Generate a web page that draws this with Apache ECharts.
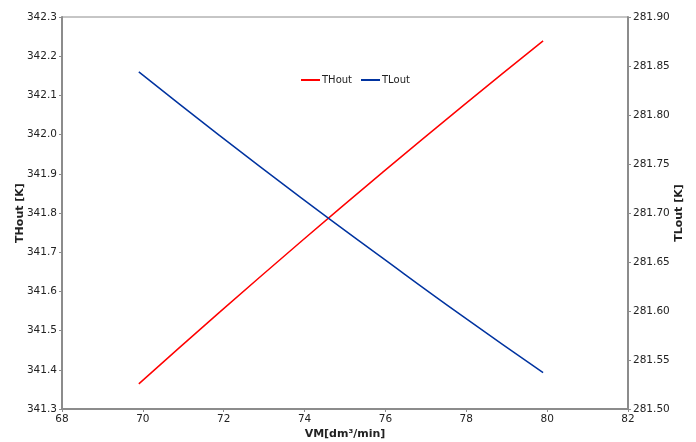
<!DOCTYPE html>
<html>
<head>
<meta charset="utf-8">
<script src="https://cdn.jsdelivr.net/npm/echarts@6/dist/echarts.min.js"></script>
<style>html,body{margin:0;padding:0;background:#fff}#c{width:696px;height:442px}</style>
</head>
<body>
<div id="c"></div>
<script>
const vm = [69.9, 71.9, 73.9, 75.9, 77.9, 79.9];
const thout = [341.364, 341.547, 341.726, 341.901, 342.072, 342.239];
const tlout = [281.844, 281.779, 281.716, 281.655, 281.595, 281.537];
const xTicks = [68, 70, 72, 74, 76, 78, 80, 82];

const font = 'DejaVu Sans';
const axisGrey = '#8c8c8c';
const fs = 10.5;
const chart = echarts.init(document.getElementById('c'));
chart.setOption({
  animation: false,
  textStyle: {fontFamily: font},
  grid: {left: 62, right: 68, top: 17, bottom: 33, containLabel: false, outerBoundsMode: 'none',
         show: true, borderColor: axisGrey, borderWidth: 1},
  legend: {
    left: 301, top: 75, padding: 0, itemGap: 9, itemWidth: 19, itemHeight: 2, icon: 'rect',
    textStyle: {fontFamily: font, fontSize: 10, color: '#222', padding: [0, 0, 0, -3]},
    data: ['THout', 'TLout']
  },
  xAxis: {
    type: 'value', min: xTicks[0], max: xTicks[xTicks.length - 1], interval: 2,
    name: 'VM[dm³/min]', nameLocation: 'middle', nameGap: 20, nameMoveOverlap: false,
    nameTextStyle: {fontFamily: font, fontWeight: 'bold', fontSize: 11, color: '#222'},
    axisLine: {lineStyle: {color: axisGrey, width: 2}},
    axisTick: {show: true, length: 3, lineStyle: {color: axisGrey}},
    axisLabel: {fontFamily: font, fontSize: fs, color: '#222', margin: 5},
    splitLine: {show: false}
  },
  yAxis: [{
    type: 'value', min: 341.3, max: 342.3, interval: 0.1, position: 'left',
    name: 'THout [K]', nameLocation: 'middle', nameGap: 36, nameMoveOverlap: false,
    nameTextStyle: {fontFamily: font, fontWeight: 'bold', fontSize: 11, color: '#222'},
    axisLine: {show: true, lineStyle: {color: axisGrey, width: 2}},
    axisTick: {show: true, length: 3, lineStyle: {color: axisGrey}},
    axisLabel: {fontFamily: font, fontSize: fs, color: '#222', margin: 5, formatter: v => v.toFixed(1)},
    splitLine: {show: false}
  }, {
    type: 'value', min: 281.5, max: 281.9, interval: 0.05, position: 'right',
    name: 'TLout [K]', nameLocation: 'middle', nameGap: 46, nameMoveOverlap: false,
    nameTextStyle: {fontFamily: font, fontWeight: 'bold', fontSize: 11, color: '#222'},
    axisLine: {show: true, lineStyle: {color: axisGrey, width: 2}},
    axisTick: {show: true, length: 3, lineStyle: {color: axisGrey}},
    axisLabel: {fontFamily: font, fontSize: fs, color: '#222', margin: 5, formatter: v => v.toFixed(2)},
    splitLine: {show: false}
  }],
  series: [{
    name: 'THout', type: 'line', yAxisIndex: 0, smooth: true, symbol: 'none',
    lineStyle: {color: '#ff0000', width: 1.5}, itemStyle: {color: '#ff0000'},
    data: vm.map((x, i) => [x, thout[i]])
  }, {
    name: 'TLout', type: 'line', yAxisIndex: 1, smooth: true, symbol: 'none',
    lineStyle: {color: '#0033a0', width: 1.5}, itemStyle: {color: '#0033a0'},
    data: vm.map((x, i) => [x, tlout[i]])
  }]
});
</script>
</body>
</html>
